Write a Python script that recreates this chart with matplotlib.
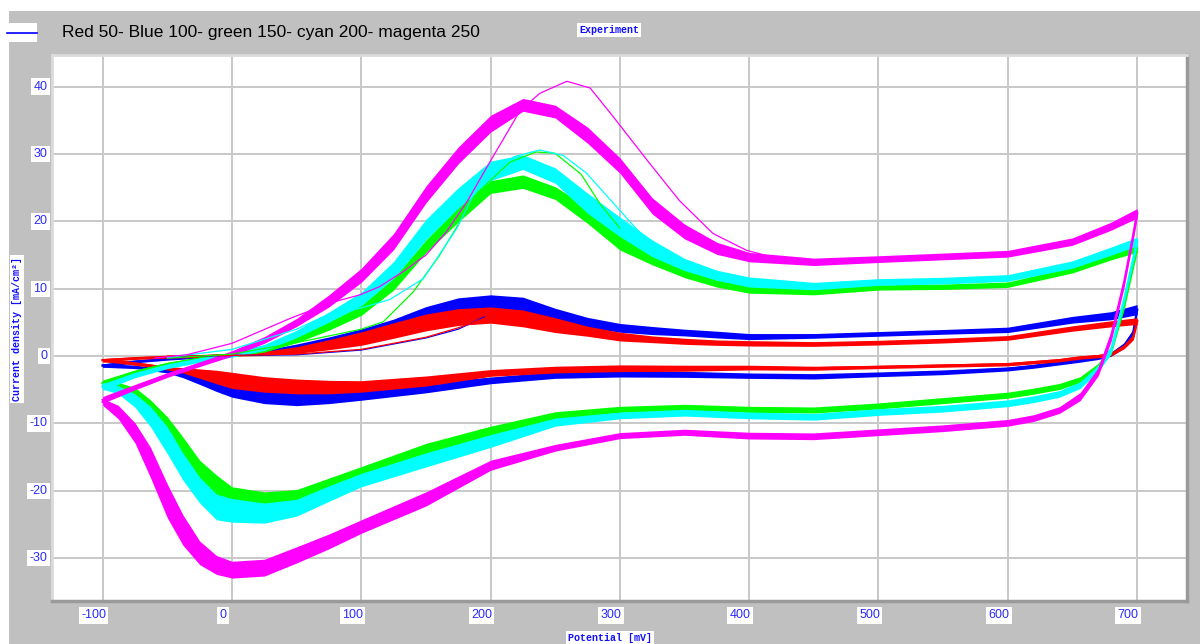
import numpy as np
import matplotlib
matplotlib.use("Agg")
import matplotlib.pyplot as plt
from matplotlib.patches import Rectangle
from matplotlib.lines import Line2D

# ---------------- data ----------------
# anodic (forward) scan potentials, mV
E_anodic = [-100, -75, -50, -25, 0, 25, 50, 75, 100, 125, 150, 175, 200, 225, 250,
            275, 300, 325, 350, 375, 400, 450, 500, 550, 600, 650, 680, 700]
# cathodic (reverse) scan potentials, mV
E_cathodic = [700, 697, 690, 680, 670, 656, 640, 620, 600, 550, 500, 450, 400, 350, 300,
              250, 200, 150, 100, 75, 50, 25, 0, -12, -25, -38, -50, -63, -75, -88, -100]

# centre of the band of repeated cycles, mA/cm2
red_anodic = [-0.6, -0.3, -0.1, 0.0, 0.2, 0.4, 0.9, 1.7, 2.6, 3.8, 5.0, 5.8, 6.1, 5.6, 4.6,
              3.7, 2.9, 2.5, 2.2, 2.0, 1.9, 1.8, 2.0, 2.3, 2.7, 4.1, 4.8, 5.2]
blue_anodic = [-1.4, -0.8, -0.4, -0.1, 0.2, 0.6, 1.3, 2.2, 3.3, 4.6, 6.2, 7.5, 8.1, 7.6, 6.0,
               5.0, 4.2, 3.8, 3.5, 3.2, 2.9, 3.0, 3.3, 3.6, 3.9, 5.4, 6.0, 6.9]
green_anodic = [-4.0, -2.4, -1.2, -0.4, 0.2, 1.0, 2.5, 4.5, 6.8, 10.7, 16.3, 21.0, 25.1, 25.9, 24.2,
                20.9, 17.0, 14.5, 12.4, 11.0, 10.1, 9.6, 10.2, 10.3, 10.6, 12.8, 14.8, 16.0]
cyan_anodic = [-4.6, -2.8, -1.5, -0.6, 0.2, 1.3, 3.3, 5.8, 8.5, 12.8, 18.8, 23.5, 27.5, 28.8, 26.8,
               22.7, 19.2, 16.0, 13.6, 12.0, 11.0, 10.4, 11.0, 11.2, 11.6, 13.6, 15.6, 17.0]
magenta_anodic = [-6.5, -4.6, -2.8, -1.2, 0.4, 2.4, 5.0, 8.2, 12.0, 17.0, 24.0, 29.8, 34.5, 37.3, 36.3,
                  32.8, 28.3, 22.3, 18.5, 16.0, 14.7, 14.0, 14.4, 14.8, 15.2, 17.0, 19.3, 21.2]

red_cathodic = [5.2, 2.8, 1.4, 0.3, 0.0, -0.2, -0.6, -0.9, -1.2, -1.4, -1.6, -1.8, -1.7, -1.8, -1.8,
                -2.0, -2.5, -3.7, -4.5, -4.6, -4.5, -4.2, -3.6, -3.1, -2.6, -2.1, -1.8, -1.4, -1.1, -0.8, -0.6]
blue_cathodic = [6.9, 3.5, 1.6, 0.3, -0.2, -0.6, -1.0, -1.5, -1.9, -2.4, -2.7, -3.0, -2.9, -2.7, -2.6,
                 -2.8, -3.6, -4.7, -5.8, -6.1, -6.2, -5.8, -4.7, -4.0, -3.3, -2.7, -2.2, -1.9, -1.6, -1.5, -1.4]
green_cathodic = [16.0, 13.5, 7.5, 0.8, -1.5, -3.5, -4.5, -5.2, -5.8, -6.6, -7.4, -8.0, -7.9, -7.6, -7.9,
                  -8.8, -11.3, -14.0, -17.2, -19.0, -20.8, -21.4, -20.9, -19.4, -17.4, -13.9, -10.5, -7.6, -5.4, -4.4, -4.0]
cyan_cathodic = [17.0, 14.5, 8.5, 1.0, -1.8, -4.3, -5.6, -6.4, -7.0, -7.8, -8.3, -9.0, -8.8, -8.4, -8.8,
                 -9.8, -12.6, -15.4, -18.4, -20.4, -22.5, -23.3, -22.9, -22.4, -19.9, -16.4, -12.5, -9.0, -6.6, -5.0, -4.4]
magenta_cathodic = [21.2, 18.0, 11.0, 3.0, -2.3, -6.0, -8.0, -9.2, -9.9, -10.7, -11.3, -11.9, -11.8, -11.3, -11.8,
                    -13.6, -16.2, -21.2, -25.3, -27.5, -29.5, -31.4, -31.7, -31.0, -29.2, -25.8, -21.5, -15.8, -11.4, -8.3, -6.8]

# width of the band of repeated cycles, mA/cm2
red_anodic_spread = [0.5, 0.4, 0.4, 0.4, 0.4, 0.6, 1.0, 1.5, 2.0, 2.3, 2.5, 2.5, 2.4, 2.5, 2.2,
                     1.5, 1.3, 1.0, 0.9, 0.8, 0.8, 0.7, 0.7, 0.7, 0.7, 0.8, 0.9, 1.0]
blue_anodic_spread = [0.5, 0.4, 0.4, 0.4, 0.4, 0.6, 1.0, 1.3, 1.5, 1.8, 2.3, 2.3, 2.0, 2.3, 2.2,
                      1.5, 1.3, 1.2, 1.0, 1.0, 0.9, 0.7, 0.7, 0.7, 0.8, 1.0, 1.2, 1.5]
green_anodic_spread = [0.9, 0.7, 0.6, 0.6, 0.6, 0.8, 1.0, 1.3, 1.5, 1.8, 1.9, 2.2, 1.9, 2.0, 1.9,
                       2.4, 2.5, 1.9, 1.5, 1.5, 1.5, 1.0, 0.8, 0.8, 0.8, 0.9, 1.0, 1.2]
cyan_anodic_spread = [1.0, 0.8, 0.7, 0.7, 0.7, 0.9, 1.1, 1.5, 2.0, 2.5, 3.0, 3.0, 2.9, 2.2, 2.3,
                      3.0, 2.9, 2.5, 1.8, 1.5, 1.5, 1.1, 1.0, 1.0, 1.0, 1.1, 1.2, 1.3]
magenta_anodic_spread = [1.0, 0.8, 0.7, 0.7, 0.8, 1.0, 1.2, 1.8, 2.1, 2.4, 2.5, 2.5, 2.5, 1.9, 1.9,
                         2.4, 2.3, 2.4, 2.2, 1.8, 1.4, 1.1, 1.0, 1.0, 1.0, 1.1, 1.2, 1.4]

red_cathodic_spread = [0.8, 0.8, 0.6, 0.5, 0.5, 0.5, 0.5, 0.5, 0.5, 0.5, 0.5, 0.6, 0.7, 0.9, 1.0,
                       1.0, 1.0, 1.5, 1.7, 2.0, 2.2, 2.3, 2.4, 2.0, 1.4, 0.8, 0.5, 0.5, 0.5, 0.5, 0.5]
blue_cathodic_spread = [1.0, 1.0, 0.8, 0.6, 0.6, 0.6, 0.6, 0.6, 0.6, 0.7, 0.7, 0.8, 0.8, 0.9, 1.0,
                        1.0, 1.0, 1.5, 1.5, 1.9, 2.3, 2.5, 2.8, 2.5, 1.8, 1.0, 0.6, 0.5, 0.5, 0.5, 0.5]
green_cathodic_spread = [1.0, 1.0, 1.0, 1.0, 0.9, 0.9, 0.9, 0.9, 0.9, 0.9, 0.9, 0.9, 0.9, 0.9, 0.9,
                         1.1, 1.8, 2.1, 1.6, 1.8, 2.0, 2.5, 3.0, 3.5, 3.9, 3.8, 3.0, 2.2, 1.5, 1.0, 0.8]
cyan_cathodic_spread = [1.2, 1.2, 1.2, 1.2, 1.0, 1.0, 1.0, 1.0, 1.0, 1.0, 1.0, 1.0, 1.0, 1.0, 1.0,
                        1.2, 1.9, 2.1, 2.0, 2.3, 2.5, 3.0, 3.5, 3.8, 3.8, 4.0, 4.0, 3.0, 2.0, 1.2, 1.0]
magenta_cathodic_spread = [1.5, 1.5, 1.5, 1.5, 1.2, 1.2, 1.0, 1.0, 1.0, 1.0, 1.0, 1.0, 1.0, 0.9, 0.9,
                           1.0, 1.5, 2.1, 2.0, 2.2, 2.4, 2.5, 2.5, 2.8, 3.5, 4.5, 5.0, 4.5, 3.0, 2.0, 1.0]

# first (thin) cycle, forward scan
red_first_E = [-50, 0, 50, 100, 125, 150, 175, 195]
red_first_I = [0.0, 0.1, 0.3, 1.0, 1.9, 2.8, 4.2, 5.6]
blue_first_E = [-50, 0, 50, 100, 125, 150, 175, 195]
blue_first_I = [-0.1, 0.1, 0.2, 0.9, 1.8, 2.7, 4.0, 5.8]
green_first_E = [-50, 0, 50, 75, 100, 117, 140, 160, 190, 215, 235, 250, 270, 285, 300]
green_first_I = [-0.3, 0.3, 2.0, 3.0, 4.0, 5.1, 9.5, 14.8, 24.3, 28.8, 30.3, 30.1, 27.0, 22.5, 19.0]
cyan_first_E = [-50, 0, 50, 70, 99, 122, 148, 174, 192, 218, 238, 256, 274, 295, 316, 333, 350]
cyan_first_I = [-0.2, 1.0, 4.0, 5.8, 7.1, 8.4, 11.5, 19.0, 26.0, 29.6, 30.6, 29.8, 27.2, 22.7, 18.2, 15.3, 13.6]
magenta_first_E = [-60, -35, 0, 45, 76, 99, 114, 132, 150, 166, 182, 200, 223, 238, 259, 277, 295,
                   321, 346, 372, 398, 420]
magenta_first_I = [-0.3, 0.2, 1.9, 5.6, 7.9, 9.1, 10.3, 12.5, 15.0, 18.5, 23.0, 29.0, 36.5, 39.0, 40.8,
                   39.8, 35.5, 29.1, 23.1, 18.2, 15.7, 14.6]

x_ticks = [-100, 0, 100, 200, 300, 400, 500, 600, 700]
y_ticks = [-30, -20, -10, 0, 10, 20, 30, 40]
x_tick_labels = ["-100", "0", "100", "200", "300", "400", "500", "600", "700"]
y_tick_labels = ["-30", "-20", "-10", "0", "10", "20", "30", "40"]

title_text = "Red 50- Blue 100- green 150- cyan 200- magenta 250"
exp_text = "Experiment"
x_label = "Potential [mV]"
y_label = "Current density [mA/cm\u00b2]"

# ---------------- figure ----------------
W, H = 1200, 644
fig = plt.figure(figsize=(W / 100, H / 100), dpi=100)
fig.patch.set_facecolor("white")
fig.patches.append(Rectangle((9 / W, 0), 1, (H - 11) / H, transform=fig.transFigure,
                             facecolor="#c0c0c0", edgecolor="none", zorder=-10))

ax = fig.add_axes([52 / W, 1 - 601 / H, (1187 - 52) / W, (601 - 55) / H])
ax.set_zorder(1)
ax.set_facecolor("white")
ax.set_xlim(-139.2, 738.6)
ax.set_ylim(-36.35, 44.7)

for side in ("left", "top"):
    ax.spines[side].set_color("#dcdcdc")
    ax.spines[side].set_linewidth(2)
for side in ("right", "bottom"):
    ax.spines[side].set_color("#9a9a9a")
    ax.spines[side].set_linewidth(2.5)

ax.set_xticks(x_ticks)
ax.set_yticks(y_ticks)
ax.tick_params(length=0, labelbottom=False, labelleft=False)
ax.grid(True, color="#c8c8c8", linewidth=1.4)
ax.set_axisbelow(True)

series = [
    ("#0000ff", blue_anodic, blue_anodic_spread, blue_cathodic, blue_cathodic_spread, blue_first_E, blue_first_I),
    ("#ff0000", red_anodic, red_anodic_spread, red_cathodic, red_cathodic_spread, red_first_E, red_first_I),
    ("#00ff00", green_anodic, green_anodic_spread, green_cathodic, green_cathodic_spread, green_first_E, green_first_I),
    ("#00ffff", cyan_anodic, cyan_anodic_spread, cyan_cathodic, cyan_cathodic_spread, cyan_first_E, cyan_first_I),
    ("#ff00ff", magenta_anodic, magenta_anodic_spread, magenta_cathodic, magenta_cathodic_spread, magenta_first_E, magenta_first_I),
]

Ea = np.array(E_anodic, float)
Ec = np.array(E_cathodic, float)
for color, ya, sa, yc, sc, fe, fi in series:
    ya, sa, yc, sc = (np.array(v, float) for v in (ya, sa, yc, sc))
    ax.fill_between(Ea, ya - sa / 2, ya + sa / 2, color=color, linewidth=0, zorder=3)
    ax.plot(Ea, ya, color=color, linewidth=1.6, zorder=3)
    ax.fill_between(Ec, yc - sc / 2, yc + sc / 2, color=color, linewidth=0, zorder=3)
    ax.plot(Ec, yc, color=color, linewidth=1.6, zorder=3)
    ax.plot(fe, fi, color=color, linewidth=0.9, zorder=4)

tick_color = "#2a2aff"
box = dict(facecolor="white", edgecolor="none", pad=1.6)
for v, lab in zip(x_ticks, x_tick_labels):
    ax.annotate(lab, xy=(v, 0), xycoords=("data", "axes fraction"), xytext=(-6.5, -10.3),
                textcoords="offset points", ha="center", va="center", fontsize=9,
                family="Liberation Sans", color=tick_color, bbox=box, annotation_clip=False)
for v, lab in zip(y_ticks, y_tick_labels):
    ax.annotate(lab, xy=(0, v), xycoords=("axes fraction", "data"), xytext=(-3.2, 0),
                textcoords="offset points", ha="right", va="center", fontsize=9,
                family="Liberation Sans", color=tick_color, bbox=box, annotation_clip=False)

small_box = dict(facecolor="white", edgecolor="none", pad=1.2)
fig.text(610 / W, 1 - 638 / H, x_label, ha="center", va="center", fontsize=7.2,
         family="Liberation Mono", weight="bold", color="#1010ff", bbox=small_box)
fig.text(17 / W, 1 - 329 / H, y_label, ha="center", va="center", rotation=90, fontsize=7.2,
         family="Liberation Mono", weight="bold", color="#1010ff", bbox=small_box)
fig.text(609 / W, 1 - 30 / H, exp_text, ha="center", va="center", fontsize=7.2,
         family="Liberation Mono", weight="bold", color="#1010ff", bbox=small_box)

# legend-like header
fig.patches.append(Rectangle((7 / W, 1 - 42 / H), 30 / W, 19 / H, transform=fig.transFigure,
                             facecolor="white", edgecolor="none", zorder=1))
fig.lines.append(Line2D([7 / W, 37 / W], [1 - 33 / H, 1 - 33 / H], transform=fig.transFigure,
                        color="#0000ff", linewidth=1.2, zorder=2))
fig.text(62 / W, 1 - 33 / H, title_text, ha="left", va="center", fontsize=12.5,
         family="Liberation Sans", color="black")

fig.savefig("out.png", dpi=100, facecolor=fig.get_facecolor())
